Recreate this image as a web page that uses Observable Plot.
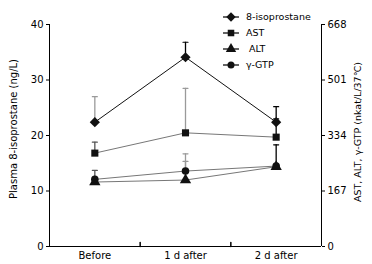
<!DOCTYPE html>
<html><head><meta charset="utf-8">
<script src="https://cdn.jsdelivr.net/npm/d3@7"></script>
<script src="https://cdn.jsdelivr.net/npm/@observablehq/plot@0.6"></script>
<style>
body{margin:0;background:#fff;}
#chart{position:relative;width:372px;height:264px;}
svg{font-family:"DejaVu Sans",sans-serif;}
</style>
</head><body><div id="chart"></div>
<script>
// ---- data ----
const categories = ["Before", "1 d after", "2 d after"];
const seriesNames = ["8-isoprostane", "AST", " ALT", "γ-GTP"];
// 8-isoprostane (ng/L), left axis
const isoValues = [22.4, 34.1, 22.4];
const isoUpper  = [27.0, 36.8, 25.2];
// enzymes (nkat/L/37℃), right axis
const astValues = [281, 342, 329];
const astUpper  = [314, 476, 384];
const altValues = [194, 200, 240];
const altUpper  = [194, 256, 240];
const gtpValues = [202, 227, 242];
const gtpUpper  = [229, 279, 306];
const leftTicks = [0, 10, 20, 30, 40];
const rightTicks = [0, 167, 334, 501, 668];

const leftMax = 40, rightMax = 668;
const toLeft = v => v * leftMax / rightMax;

const symbols = ["diamond2", "square", "triangle", "circle"];
const radii = [4.6, 4, 4.2, 3.8];
const lineColors = ["#111", "#777", "#777", "#777"];
const errColors = [["#9a9a9a", "#000", "#000"], ["#555", "#9a9a9a", "#000"], ["#9a9a9a", "#9a9a9a", "#000"], ["#555", "#9a9a9a", "#000"]];

const seriesVals = [isoValues, astValues.map(toLeft), altValues.map(toLeft), gtpValues.map(toLeft)];
const seriesHi = [isoUpper, astUpper.map(toLeft), altUpper.map(toLeft), gtpUpper.map(toLeft)];

const rows = [];
seriesNames.forEach((s, si) => categories.forEach((c, ci) => rows.push({
  s, si, ci, x: ci + 0.5, y: seriesVals[si][ci], hi: seriesHi[si][ci], ec: errColors[si][ci]
})));

const lineShape = {draw(ctx, l) { ctx.moveTo(0, 0); ctx.lineTo(0, -l); }};
const capShape = {draw(ctx, l) { ctx.moveTo(-l / 2, 0); ctx.lineTo(l / 2, 0); }};

const errRows = rows.filter(d => d.hi > d.y);
const marks = [
  // error bars
  Plot.ruleX(errRows, {x: "x", y1: "y", y2: "hi", stroke: "ec", strokeWidth: 1.3}),
  Plot.vector(errRows, {x: "x", y: "hi", length: 5, rotate: 0, anchor: "start", shape: capShape, stroke: "ec", strokeWidth: 1.2}),
];
seriesNames.forEach((s, si) => {
  const data = rows.filter(d => d.si === si);
  marks.push(Plot.line(data, {x: "x", y: "y", stroke: lineColors[si], strokeWidth: 1}));
});
seriesNames.forEach((s, si) => {
  const data = rows.filter(d => d.si === si);
  marks.push(Plot.dot(data, {x: "x", y: "y", symbol: () => symbols[si], r: radii[si], fill: "#111", stroke: "none"}));
});
// axes
marks.push(
  Plot.ruleY([0], {stroke: "#000"}),
  Plot.ruleX([0, categories.length], {stroke: "#000"}),
  Plot.axisY({ticks: leftTicks, tickSize: 3, tickPadding: 3, fontSize: 10, label: null, anchor: "left"}),
  Plot.axisY({ticks: rightTicks.map(toLeft), tickFormat: (d, i) => String(rightTicks[i]), tickSize: 3, tickPadding: 3, fontSize: 10, label: null, anchor: "right"}),
  Plot.axisX({ticks: categories.map((c, i) => i + 0.5), tickFormat: (d, i) => categories[i], tickSize: 0, tickPadding: 5, fontSize: 10, label: null}),
  Plot.vector(d3.range(1, categories.length), {x: d => d, y: () => 0, length: 4, anchor: "start", shape: lineShape, stroke: "#000"})
);

const plot = Plot.plot({
  width: 372, height: 264,
  marginLeft: 49, marginRight: 51, marginTop: 24, marginBottom: 18,
  x: {domain: [0, categories.length]},
  y: {domain: [0, leftMax]},
  style: {fontFamily: "DejaVu Sans, sans-serif", fontSize: "10px", color: "#000", background: "#fff"},
  marks
});
document.getElementById("chart").appendChild(plot);

// axis titles and legend
const svg = d3.select(plot);
svg.append("text").attr("transform", "translate(17,129) rotate(-90)").attr("text-anchor", "middle")
  .attr("font-size", 10).text("Plasma 8-isoprostane (ng/L)");
svg.append("text").attr("transform", "translate(361,132) rotate(-90)").attr("text-anchor", "middle")
  .attr("font-size", 9.5).text("AST, ALT, γ-GTP (nkat/L/37℃)");

const d3sym = {diamond2: d3.symbolDiamond2, square: d3.symbolSquare, triangle: d3.symbolTriangle, circle: d3.symbolCircle};
const lg = svg.append("g").attr("transform", "translate(223,17)");
seriesNames.forEach((s, i) => {
  const g = lg.append("g").attr("transform", `translate(0,${i * 16})`);
  g.append("line").attr("x1", 0).attr("x2", 16).attr("stroke", "#111").attr("stroke-width", 1.3);
  g.append("path").attr("transform", "translate(8,0)")
    .attr("d", d3.symbol(d3sym[symbols[i]], Math.PI * radii[i] * radii[i] * 0.85)()).attr("fill", "#111");
  g.append("text").attr("x", 23).attr("dy", "0.35em").attr("text-anchor", "start")
    .attr("font-size", 9.5).attr("xml:space", "preserve").style("white-space", "pre").text(s);
});
</script></body></html>
